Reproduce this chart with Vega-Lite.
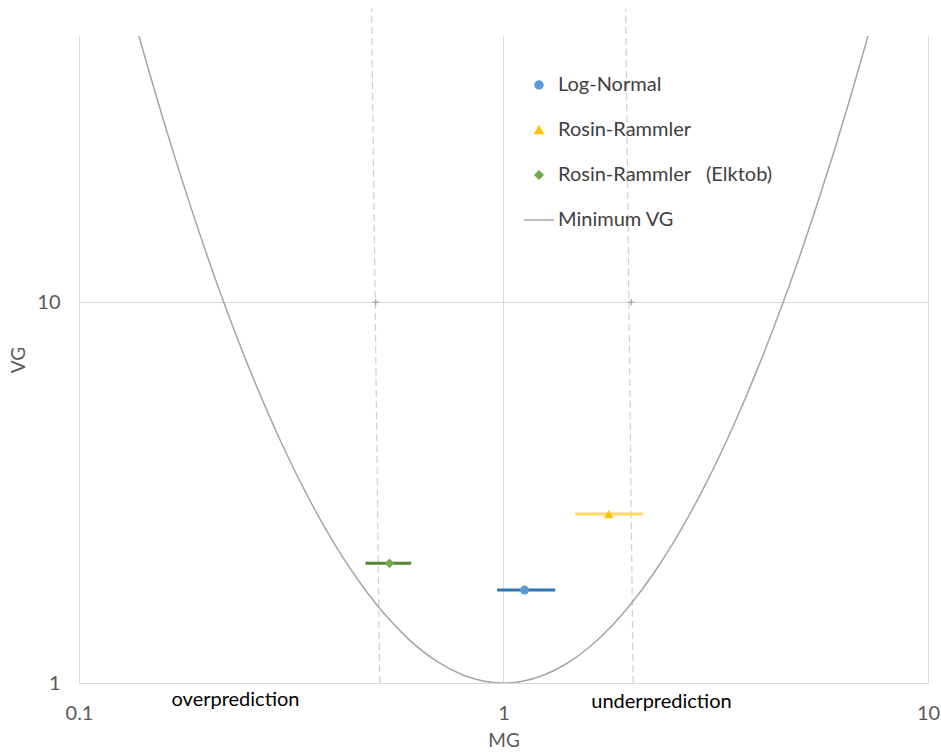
{
  "$schema": "https://vega.github.io/schema/vega-lite/v6.json",
  "width": 849,
  "height": 647,
  "autosize": "none",
  "padding": {"left": 79, "top": 36, "right": 13, "bottom": 71},
  "background": "white",
  "config": {
    "view": {"stroke": null},
    "font": "Lato",
    "axis": {
      "domainColor": "#D9D9D9",
      "gridColor": "#D9D9D9",
      "ticks": false,
      "labelFlush": false,
      "labelFont": "Lato",
      "labelFontSize": 20,
      "labelColor": "#595959",
      "titleFont": "Lato",
      "titleFontSize": 19,
      "titleFontWeight": "normal",
      "titleColor": "#595959"
    }
  },
  "datasets": {
    "guides": [
      {"MG": 0.511, "MG2": 0.489, "VG": 1, "VG2": 59},
      {"MG": 2.02, "MG2": 1.94, "VG": 1, "VG2": 59}
    ],
    "crosses": [
      {"MG": 0.5, "VG": 10},
      {"MG": 2, "VG": 10}
    ],
    "curve": [
      {"series": "Minimum VG", "MG": 0.135, "VG": 55.1},
      {"series": "Minimum VG", "MG": 0.15, "VG": 36.56},
      {"series": "Minimum VG", "MG": 0.17, "VG": 23.11},
      {"series": "Minimum VG", "MG": 0.2, "VG": 13.33},
      {"series": "Minimum VG", "MG": 0.25, "VG": 6.834},
      {"series": "Minimum VG", "MG": 0.3, "VG": 4.261},
      {"series": "Minimum VG", "MG": 0.35, "VG": 3.011},
      {"series": "Minimum VG", "MG": 0.4, "VG": 2.315},
      {"series": "Minimum VG", "MG": 0.45, "VG": 1.892},
      {"series": "Minimum VG", "MG": 0.5, "VG": 1.617},
      {"series": "Minimum VG", "MG": 0.55, "VG": 1.43},
      {"series": "Minimum VG", "MG": 0.6, "VG": 1.298},
      {"series": "Minimum VG", "MG": 0.7, "VG": 1.136},
      {"series": "Minimum VG", "MG": 0.8, "VG": 1.051},
      {"series": "Minimum VG", "MG": 0.9, "VG": 1.011},
      {"series": "Minimum VG", "MG": 1.0, "VG": 1.0},
      {"series": "Minimum VG", "MG": 1.1, "VG": 1.009},
      {"series": "Minimum VG", "MG": 1.25, "VG": 1.051},
      {"series": "Minimum VG", "MG": 1.4, "VG": 1.12},
      {"series": "Minimum VG", "MG": 1.6, "VG": 1.247},
      {"series": "Minimum VG", "MG": 1.8, "VG": 1.413},
      {"series": "Minimum VG", "MG": 2.0, "VG": 1.617},
      {"series": "Minimum VG", "MG": 2.25, "VG": 1.93},
      {"series": "Minimum VG", "MG": 2.5, "VG": 2.315},
      {"series": "Minimum VG", "MG": 3.0, "VG": 3.343},
      {"series": "Minimum VG", "MG": 3.5, "VG": 4.804},
      {"series": "Minimum VG", "MG": 4.0, "VG": 6.834},
      {"series": "Minimum VG", "MG": 4.5, "VG": 9.606},
      {"series": "Minimum VG", "MG": 5.0, "VG": 13.33},
      {"series": "Minimum VG", "MG": 5.5, "VG": 18.29},
      {"series": "Minimum VG", "MG": 6.0, "VG": 24.79},
      {"series": "Minimum VG", "MG": 6.5, "VG": 33.23},
      {"series": "Minimum VG", "MG": 7.4, "VG": 54.9}
    ],
    "results": [
      {"series": "Log-Normal", "MG": 1.121, "lo": 0.966, "hi": 1.324, "VG": 1.754},
      {"series": "Rosin-Rammler", "MG": 1.77, "lo": 1.475, "hi": 2.129, "VG": 2.777},
      {"series": "Rosin-Rammler \u00a0\u00a0(Elktob)", "MG": 0.539, "lo": 0.473, "hi": 0.606, "VG": 2.062}
    ],
    "notes": [
      {"MG": 0.2337, "VG": 0.902, "note": "overprediction"},
      {"MG": 2.356, "VG": 0.891, "note": "underprediction"}
    ]
  },
  "encoding": {
    "x": {
      "field": "MG",
      "type": "quantitative",
      "scale": {"type": "log", "domain": [0.1, 10], "nice": false},
      "axis": {
        "title": "MG",
        "values": [0.1, 1, 10],
        "format": "~g",
        "labelPadding": 20,
        "titlePadding": 8,
        "grid": true
      }
    },
    "y": {
      "field": "VG",
      "type": "quantitative",
      "scale": {"type": "log", "domain": [1, 50], "nice": false},
      "axis": {
        "title": "VG",
        "values": [1, 10],
        "format": "~g",
        "labelPadding": 19,
        "titlePadding": 8,
        "grid": true
      }
    }
  },
  "layer": [
    {
      "data": {"name": "guides"},
      "mark": {"type": "rule", "color": "#D0D0D0", "strokeWidth": 1.2, "strokeDash": [7, 4], "clip": false},
      "encoding": {
        "x2": {"field": "MG2"},
        "y2": {"field": "VG2"}
      }
    },
    {
      "data": {"name": "crosses"},
      "mark": {"type": "point", "shape": "M-1,0L1,0M0,-1L0,1", "filled": false, "color": "#A6A6A6", "size": 45, "strokeWidth": 1.2, "opacity": 1}
    },
    {
      "data": {"name": "curve"},
      "mark": {"type": "line", "strokeWidth": 1.5, "interpolate": "monotone", "clip": true},
      "encoding": {
        "color": {
          "field": "series",
          "type": "nominal",
          "scale": {
            "domain": ["Log-Normal", "Rosin-Rammler", "Rosin-Rammler \u00a0\u00a0(Elktob)", "Minimum VG"],
            "range": ["#5B9BD5", "#FFC000", "#70AD47", "#A5A5A5"]
          }
        }
      }
    },
    {
      "data": {"name": "results"},
      "mark": {"type": "rule", "strokeWidth": 3},
      "encoding": {
        "x": {"field": "lo", "type": "quantitative"},
        "x2": {"field": "hi"},
        "stroke": {
          "field": "series",
          "type": "nominal",
          "scale": {
            "domain": ["Log-Normal", "Rosin-Rammler", "Rosin-Rammler \u00a0\u00a0(Elktob)"],
            "range": ["#2E75B6", "#FFD966", "#548235"]
          },
          "legend": null
        }
      }
    },
    {
      "data": {"name": "results"},
      "mark": {"type": "point", "filled": true, "opacity": 1},
      "encoding": {
        "size": {
          "field": "series",
          "type": "nominal",
          "scale": {
            "domain": ["Log-Normal", "Rosin-Rammler", "Rosin-Rammler \u00a0\u00a0(Elktob)"],
            "range": [80, 95, 60]
          },
          "legend": null
        },
        "color": {
          "field": "series",
          "type": "nominal",
          "legend": {
            "title": null,
            "orient": "none",
            "legendX": 450,
            "legendY": 39,
            "symbolSize": 64,
            "labelFont": "Lato",
            "labelFontSize": 20,
            "labelColor": "#404040",
            "labelLimit": 0,
            "labelOffset": 9,
            "rowPadding": 25,
            "encode": {
              "symbols": {
                "update": {
                  "fill": {"signal": "datum.value === 'Minimum VG' ? 'transparent' : scale('color', datum.value)"},
                  "stroke": {"signal": "scale('color', datum.value)"},
                  "strokeWidth": {"signal": "datum.value === 'Minimum VG' ? 1.5 : 0"}
                }
              }
            }
          }
        },
        "shape": {
          "field": "series",
          "type": "nominal",
          "scale": {
            "domain": ["Log-Normal", "Rosin-Rammler", "Rosin-Rammler \u00a0\u00a0(Elktob)", "Minimum VG"],
            "range": ["circle", "triangle-up", "diamond", "M-3.75,0L3.75,0"]
          },
          "legend": null
        }
      }
    },
    {
      "data": {"name": "notes"},
      "mark": {"type": "text", "font": "Lato", "fontSize": 20, "color": "#000000", "baseline": "middle", "align": "center", "clip": false},
      "encoding": {
        "text": {"field": "note"}
      }
    }
  ]
}
